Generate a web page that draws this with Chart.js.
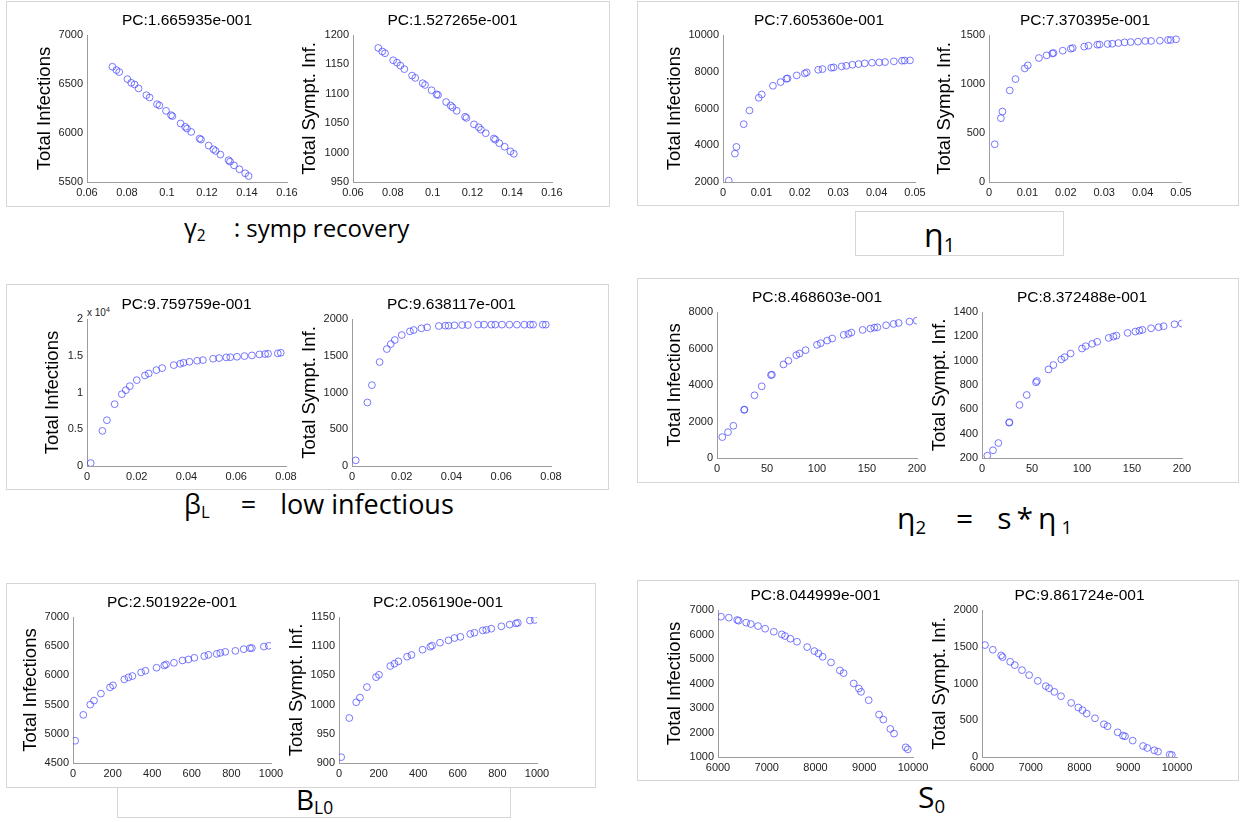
<!DOCTYPE html>
<html>
<head>
<meta charset="utf-8">
<script src="https://cdn.jsdelivr.net/npm/chart.js@4.4.1/dist/chart.umd.min.js"></script>
<style>
  body { margin: 0; width: 1246px; height: 822px; background: #fff; position: relative; overflow: hidden; }
  .box { position: absolute; border: 1px solid #d6d6d6; box-sizing: border-box; }
  .lbl { position: absolute; font-family: "Open Sans", sans-serif; color: #000; white-space: nowrap; line-height: 1; }
  .lbl sub { font-size: 0.62em; vertical-align: -0.25em; }
  .exp { position: absolute; font-family: "Liberation Sans", Arial, sans-serif; font-size: 10px; color: #222; }
  .exp sup { font-size: 7px; }
  canvas { position: absolute; }
</style>
</head>
<body>

<div class="box" style="left:6px;top:1px;width:604px;height:206px"></div>
<div class="box" style="left:637px;top:1px;width:602px;height:205px"></div>
<div class="box" style="left:6px;top:284px;width:603px;height:206px"></div>
<div class="box" style="left:637px;top:278px;width:602px;height:205px"></div>
<div class="box" style="left:6px;top:583px;width:590px;height:205px"></div>
<div class="box" style="left:117px;top:787px;width:394px;height:31px"></div>
<div class="box" style="left:637px;top:580px;width:602px;height:201px"></div>
<div class="box" style="left:855px;top:211px;width:209px;height:45px"></div>

<div class="lbl" style="left:184px;top:215px;font-size:25px">γ<sub>2</sub><span style="margin-left:28px">:</span><span style="margin-left:6px;font-size:24px">symp recovery</span></div>
<div class="lbl" style="left:924px;top:219px;font-size:32px">η<sub>1</sub></div>
<div class="lbl" style="left:184px;top:490px;font-size:27px">β<sub>L</sub><span style="margin-left:31px">=</span><span style="margin-left:24px">low infectious</span></div>
<div class="lbl" style="left:897px;top:503px;font-size:30px">η<sub>2</sub><span style="margin-left:30px">=</span><span style="margin-left:24px;letter-spacing:5px">s*η</span><sub>1</sub></div>
<div class="lbl" style="left:296px;top:785px;font-size:28px">B<sub>L0</sub></div>
<div class="lbl" style="left:918px;top:782px;font-size:30px">S<sub>0</sub></div>
<div class="exp" style="left:87px;top:306px">x 10<sup>4</sup></div>

<script>
// γ2: symp recovery
const gammaX = [0.0727, 0.0747, 0.0761, 0.0802, 0.0821, 0.0838, 0.0858, 0.0897, 0.0913, 0.0950,
  0.0962, 0.0995, 0.1020, 0.1027, 0.1068, 0.1091, 0.1100, 0.1121, 0.1163, 0.1170,
  0.1208, 0.1232, 0.1243, 0.1267, 0.1308, 0.1315, 0.1335, 0.1362, 0.1391, 0.1408];
const gammaInf = [6676, 6642, 6622, 6550, 6512, 6495, 6455, 6386, 6362, 6294,
  6281, 6226, 6182, 6172, 6097, 6063, 6045, 6011, 5943, 5933,
  5872, 5834, 5817, 5780, 5722, 5708, 5670, 5630, 5589, 5561];
const gammaSym = [1178, 1172, 1169, 1157, 1153, 1148, 1142, 1131, 1127, 1118,
  1115, 1106, 1099, 1098, 1086, 1080, 1077, 1071, 1061, 1059,
  1048, 1043, 1039, 1033, 1024, 1022, 1016, 1010, 1002, 998];

// η1
const eta1X = [0.0015, 0.0031, 0.0035, 0.0054, 0.0069, 0.0093, 0.0101, 0.0130, 0.0150, 0.0165,
  0.0168, 0.0192, 0.0213, 0.0218, 0.0248, 0.0259, 0.0282, 0.0288, 0.0309, 0.0321,
  0.0337, 0.0353, 0.0369, 0.0388, 0.0407, 0.0422, 0.0445, 0.0466, 0.0473, 0.0487];
const eta1Inf = [2073, 3546, 3909, 5146, 5891, 6582, 6764, 7236, 7436, 7618,
  7636, 7800, 7909, 7964, 8109, 8145, 8218, 8236, 8291, 8327,
  8382, 8418, 8455, 8491, 8509, 8527, 8564, 8600, 8610, 8618];
const eta1Sym = [385, 651, 719, 934, 1050, 1159, 1190, 1265, 1292, 1312,
  1316, 1340, 1360, 1367, 1381, 1391, 1401, 1403, 1408, 1411,
  1418, 1425, 1428, 1432, 1439, 1439, 1442, 1449, 1449, 1456];

// βL: low infectious
const betaX = [0.0015, 0.0062, 0.0080, 0.0111, 0.0140, 0.0156, 0.0172, 0.0200, 0.0233, 0.0248,
  0.0279, 0.0302, 0.0349, 0.0375, 0.0388, 0.0412, 0.0443, 0.0466, 0.0507, 0.0531,
  0.0560, 0.0576, 0.0603, 0.0633, 0.0663, 0.0693, 0.0716, 0.0728, 0.0767, 0.0779];
const betaInf = [400, 4773, 6228, 8410, 9773, 10318, 10864, 11682, 12318, 12591,
  13045, 13318, 13727, 13909, 14045, 14182, 14318, 14409, 14591, 14682,
  14773, 14800, 14864, 14955, 15045, 15182, 15227, 15273, 15318, 15409];
const betaSym = [77, 864, 1100, 1414, 1591, 1659, 1714, 1782, 1832, 1850,
  1873, 1886, 1905, 1909, 1909, 1914, 1918, 1918, 1923, 1923,
  1923, 1923, 1923, 1923, 1923, 1923, 1923, 1923, 1923, 1923];

// η2 = s*η1
const eta2X = [5.3, 11, 16.4, 27.2, 27.4, 37.5, 44.7, 54, 54.9, 66.5,
  71.4, 79.3, 82.6, 88.6, 100, 103.7, 110.2, 115.2, 126.7, 131.4,
  134.4, 145.6, 153.4, 157.3, 160.4, 169.1, 176.6, 181.6, 192.5, 199.7];
const eta2Inf = [1145, 1418, 1764, 2636, 2655, 3436, 3927, 4545, 4564, 5127,
  5327, 5636, 5727, 5909, 6200, 6291, 6436, 6545, 6745, 6800,
  6873, 7018, 7091, 7145, 7164, 7273, 7345, 7400, 7473, 7527];
const eta2Sym = [219, 263, 323, 490, 494, 636, 718, 822, 833, 928,
  964, 1010, 1029, 1059, 1100, 1119, 1138, 1155, 1187, 1198,
  1206, 1228, 1239, 1247, 1253, 1266, 1275, 1283, 1299, 1305];

// BL0
const bl0X = [11, 52, 87, 106, 141, 187, 202, 259, 280, 300,
  344, 366, 422, 461, 470, 510, 553, 583, 613, 663,
  684, 726, 744, 769, 820, 862, 894, 903, 964, 989];
const bl0Inf = [4881, 5324, 5500, 5568, 5688, 5795, 5830, 5932, 5966, 5989,
  6051, 6080, 6131, 6170, 6187, 6216, 6256, 6273, 6301, 6330,
  6352, 6369, 6386, 6403, 6420, 6449, 6466, 6468, 6494, 6506];
const bl0Sym = [910, 977, 1004, 1012, 1030, 1047, 1051, 1066, 1070, 1074,
  1082, 1085, 1094, 1099, 1101, 1106, 1110, 1114, 1116, 1121,
  1123, 1127, 1128, 1130, 1134, 1137, 1139, 1140, 1144, 1145];

// S0
const s0X = [6061, 6222, 6393, 6423, 6578, 6673, 6820, 6967, 7145, 7309,
  7375, 7484, 7621, 7829, 7976, 8061, 8147, 8318, 8500, 8575,
  8783, 8890, 8934, 9091, 9303, 9391, 9535, 9611, 9850, 9894];
const s0Inf = [6727, 6686, 6591, 6564, 6482, 6427, 6345, 6236, 6114, 6005,
  5936, 5827, 5705, 5486, 5323, 5227, 5091, 4859, 4532, 4423,
  4000, 3795, 3659, 3318, 2732, 2527, 2145, 1955, 1395, 1314];
const s0Sym = [1523, 1459, 1382, 1359, 1295, 1250, 1182, 1114, 1036, 964,
  936, 886, 827, 736, 673, 636, 591, 527, 445, 418,
  336, 291, 282, 223, 150, 123, 91, 73, 32, 27];

const pcTitles = ["PC:1.665935e-001", "PC:1.527265e-001", "PC:7.605360e-001", "PC:7.370395e-001",
  "PC:9.759759e-001", "PC:9.638117e-001", "PC:8.468603e-001", "PC:8.372488e-001",
  "PC:2.501922e-001", "PC:2.056190e-001", "PC:8.044999e-001", "PC:9.861724e-001"];

const INF = "Total Infections";
const SYM = "Total Sympt. Inf.";
const FONT = '"Liberation Sans", Arial, sans-serif';
const M = 70, TOP = 27, BOT = 22;

// left/top/right/bottom of each plot area, gap = distance of the y title from the axis
const plots = [
  { l: 87, t: 35, r: 287, b: 182, gap: 42, x: gammaX, y: gammaInf, yl: INF, xs: [0.06, 0.16, 0.02], ys: [5500, 7000, 500] },
  { l: 353, t: 35, r: 552, b: 182, gap: 43, x: gammaX, y: gammaSym, yl: SYM, xs: [0.06, 0.16, 0.02], ys: [950, 1200, 50] },
  { l: 723, t: 35, r: 915, b: 182, gap: 48, x: eta1X, y: eta1Inf, yl: INF, xs: [0, 0.05, 0.01], ys: [2000, 10000, 2000] },
  { l: 989, t: 35, r: 1181, b: 182, gap: 44, x: eta1X, y: eta1Sym, yl: SYM, xs: [0, 0.05, 0.01], ys: [0, 1500, 500] },
  { l: 87, t: 319, r: 286, b: 466, gap: 34, x: betaX, y: betaInf, yl: INF, xs: [0, 0.08, 0.02], ys: [0, 20000, 5000], scale: 1e4 },
  { l: 352, t: 319, r: 551, b: 466, gap: 42, x: betaX, y: betaSym, yl: SYM, xs: [0, 0.08, 0.02], ys: [0, 2000, 500] },
  { l: 717, t: 312, r: 917, b: 458, gap: 42, x: eta2X, y: eta2Inf, yl: INF, xs: [0, 200, 50], ys: [0, 8000, 2000] },
  { l: 982, t: 312, r: 1182, b: 458, gap: 42, x: eta2X, y: eta2Sym, yl: SYM, xs: [0, 200, 50], ys: [200, 1400, 200] },
  { l: 73, t: 617, r: 271, b: 763, gap: 42, x: bl0X, y: bl0Inf, yl: INF, xs: [0, 1000, 200], ys: [4500, 7000, 500] },
  { l: 339, t: 617, r: 537, b: 763, gap: 42, x: bl0X, y: bl0Sym, yl: SYM, xs: [0, 1000, 200], ys: [900, 1150, 50] },
  { l: 718, t: 610, r: 913, b: 757, gap: 43, x: s0X, y: s0Inf, yl: INF, xs: [6000, 10000, 1000], ys: [1000, 7000, 1000] },
  { l: 982, t: 610, r: 1177, b: 757, gap: 42, x: s0X, y: s0Sym, yl: SYM, xs: [6000, 10000, 1000], ys: [0, 2000, 500] }
];

const fmt = (v) => String(+v.toFixed(6));

// "PC:..." heading, centred over the plot area rather than the canvas
const pcTitle = {
  id: "pcTitle",
  afterDraw(chart, args, opts) {
    const { ctx, chartArea } = chart;
    ctx.save();
    ctx.font = "15.5px " + FONT;
    ctx.fillStyle = "#000";
    ctx.textAlign = "center";
    ctx.textBaseline = "middle";
    ctx.fillText(opts.text, (chartArea.left + chartArea.right) / 2, chartArea.top - 14);
    ctx.restore();
  }
};

function axis(range, cb) {
  return {
    type: "linear", min: range[0], max: range[1],
    grid: { display: false, drawTicks: false },
    border: { color: "#9c9c9c", width: 1 },
    ticks: { stepSize: range[2], autoSkip: false, maxRotation: 0, padding: 4, color: "#222", font: { family: FONT, size: 11 }, callback: cb }
  };
}

plots.forEach((p, i) => {
  const w = p.r - p.l, h = p.b - p.t;
  const cv = document.createElement("canvas");
  cv.width = w + 2 * M;
  cv.height = TOP + h + BOT;
  cv.style.left = (p.l - M) + "px";
  cv.style.top = (p.t - TOP) + "px";
  document.body.appendChild(cv);

  const xAxis = axis(p.xs, fmt);
  xAxis.afterFit = (s) => { s.height = BOT; };
  const yAxis = axis(p.ys, p.scale ? (v) => fmt(v / p.scale) : fmt);
  yAxis.afterFit = (s) => { s.width = M; };
  yAxis.title = { display: true, text: p.yl, color: "#000", font: { family: FONT, size: 18.5 }, padding: { top: M - p.gap - 11, bottom: 0 } };

  new Chart(cv, {
    type: "scatter",
    data: {
      datasets: [{
        data: p.x.map((v, k) => ({ x: v, y: p.y[k] })),
        pointStyle: "circle",
        pointRadius: 3.4,
        borderWidth: 1,
        borderColor: "rgba(70,70,255,0.72)",
        backgroundColor: "rgba(0,0,0,0)"
      }]
    },
    options: {
      responsive: false,
      animation: false,
      layout: { padding: { left: 0, right: M, top: TOP, bottom: 0 } },
      plugins: {
        legend: { display: false },
        tooltip: { enabled: false },
        pcTitle: { text: pcTitles[i] }
      },
      scales: { x: xAxis, y: yAxis }
    },
    plugins: [pcTitle]
  });
});
</script>
</body>
</html>
